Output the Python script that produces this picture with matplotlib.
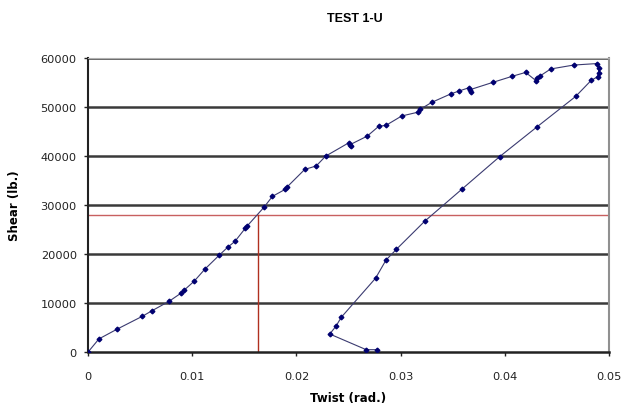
import matplotlib.pyplot as plt

# Torsion test 1-U: applied shear vs. measured twist (loading then unloading)
twist = [0.0, 0.00105, 0.0028, 0.0052, 0.0061, 0.0078, 0.0089, 0.0092, 0.0102,
         0.0112, 0.0126, 0.0134, 0.0141, 0.0151, 0.0153, 0.0169, 0.0177, 0.0189,
         0.0191, 0.0208, 0.0219, 0.0228, 0.0250, 0.0252, 0.0251, 0.0268, 0.0279,
         0.0286, 0.0301, 0.0317, 0.0319, 0.0330, 0.0348, 0.0356, 0.0366, 0.0368,
         0.0367, 0.0389, 0.0407, 0.0420, 0.0430, 0.0431, 0.0434, 0.0444, 0.0466,
         0.0488, 0.0490, 0.0490, 0.0489, 0.0483, 0.0468, 0.0431, 0.0395, 0.0359,
         0.0323, 0.0296, 0.0286, 0.0276, 0.0243, 0.0238, 0.0232, 0.0267, 0.0277]
shear = [0, 2700, 4700, 7300, 8400, 10400, 12000, 12600, 14500,
         16900, 19800, 21400, 22600, 25300, 25800, 29600, 31800, 33200,
         33700, 37300, 38000, 40000, 42700, 42000, 42300, 44100, 46100,
         46300, 48200, 49000, 49600, 51000, 52700, 53300, 54000, 53000,
         53600, 55100, 56300, 57100, 55400, 55900, 56400, 57800, 58600,
         58900, 58000, 57000, 56200, 55500, 52200, 46000, 39900, 33300,
         26700, 21000, 18800, 15100, 7100, 5300, 3700, 500, 500]

# reference lines at the proportional limit
limit_twist = 0.0163
limit_shear = 28000

fig = plt.figure(figsize=(6.24, 4.14), dpi=100)
ax = fig.add_axes([0.141, 0.147, 0.835, 0.71])
plt.rcParams['font.family'] = ['Liberation Sans', 'DejaVu Sans']

for y in range(10000, 60001, 10000):
    ax.axhline(y, color='#3a3a3a', lw=1.8, zorder=1)

ax.axhline(limit_shear, color='#c86060', lw=1.0, zorder=2)
ax.plot([limit_twist, limit_twist], [0, limit_shear], color='#b03020', lw=1.0, zorder=2)

ax.plot(twist, shear, color='#3a3a70', lw=0.8, marker='D', markersize=2.4,
        markerfacecolor='#000070', markeredgecolor='#000070', zorder=3)

ax.set_xlim(0, 0.05)
ax.set_ylim(0, 60000)
ax.set_xticks([0, 0.01, 0.02, 0.03, 0.04, 0.05])
ax.set_xticklabels(['0', '0.01', '0.02', '0.03', '0.04', '0.05'])
ax.set_yticks(range(0, 60001, 10000))
ax.tick_params(axis='both', labelsize=8.2, colors='#222222', length=3, width=1)
ax.tick_params(axis='y', pad=5)
ax.tick_params(axis='x', pad=10.5)

ax.spines['left'].set_color('#222222')
ax.spines['left'].set_linewidth(1.5)
ax.spines['bottom'].set_color('#222222')
ax.spines['bottom'].set_linewidth(1.8)
ax.spines['top'].set_color('#b0b0b0')
ax.spines['right'].set_color('#909090')
ax.spines['right'].set_linewidth(1.5)

ax.set_xlabel('Twist (rad.)', fontsize=8.5, fontweight='bold', labelpad=7.5)
ax.set_ylabel('Shear (lb.)', fontsize=8.5, fontweight='bold', labelpad=14)
fig.text(0.569, 0.955, 'TEST 1-U', ha='center', va='center',
         fontsize=9, fontweight='bold')

fig.savefig('out.png', dpi=100)
